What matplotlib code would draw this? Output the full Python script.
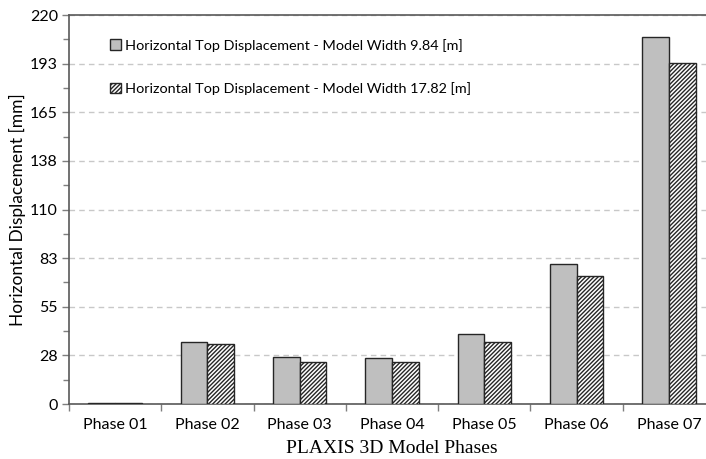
import numpy as np
import matplotlib.pyplot as plt
from matplotlib.ticker import MultipleLocator, FixedLocator

# data
phases = ["Phase 01", "Phase 02", "Phase 03", "Phase 04", "Phase 05", "Phase 06", "Phase 07"]
width_984 = [0.5, 35.0, 26.3, 25.9, 39.7, 79.2, 207.3]
width_1782 = [0.7, 34.2, 24.0, 23.6, 35.1, 72.4, 192.9]
label_984 = "Horizontal Top Displacement - Model Width 9.84 [m]"
label_1782 = "Horizontal Top Displacement - Model Width 17.82 [m]"
y_ticks = [0, 27.5, 55, 82.5, 110, 137.5, 165, 192.5, 220]
y_tick_labels = ["0", "28", "55", "83", "110", "138", "165", "193", "220"]

plt.rcParams['hatch.linewidth'] = 1.0
plt.rcParams['font.family'] = ['Lato', 'DejaVu Sans']

fig = plt.figure(figsize=(7.06, 4.59), dpi=100)
ax = fig.add_axes([69 / 706, 55 / 459, 646 / 706, 389 / 459])

x = np.arange(len(phases))
bw = 0.29
ax.bar(x - bw / 2, width_984, bw, color='#BFBFBF', edgecolor='#262626', linewidth=1.0,
       label=label_984, zorder=3)
ax.bar(x + bw / 2, width_1782, bw, color='white', edgecolor='#262626', linewidth=1.0,
       hatch='////////', label=label_1782, zorder=3)

ax.set_xlim(-0.5, len(phases) - 0.5)
ax.set_ylim(0, 220)

# y axis
ax.yaxis.set_major_locator(FixedLocator(y_ticks))
ax.set_yticklabels(y_tick_labels)
ax.yaxis.set_minor_locator(MultipleLocator(13.75))
ax.tick_params(axis='y', which='major', length=5, width=1, color='#7F7F7F', labelsize=11.5, pad=3)
ax.tick_params(axis='y', which='minor', length=4, width=1, color='#7F7F7F')
ax.grid(axis='y', which='major', linestyle=(0, (4, 3)), color='#C8C8C8', linewidth=1, zorder=0)

# x axis: ticks on boundaries, labels centered
ax.xaxis.set_major_locator(FixedLocator(np.arange(len(phases) + 1) - 0.5))
ax.xaxis.set_major_formatter(plt.NullFormatter())
ax.xaxis.set_minor_locator(FixedLocator(x))
ax.set_xticklabels(phases, minor=True)
ax.tick_params(axis='x', which='major', length=5, width=1, color='#7F7F7F')
ax.tick_params(axis='x', which='minor', length=0, labelsize=11.5, pad=10)

for s in ['left', 'bottom', 'top', 'right']:
    ax.spines[s].set_color('#595959')
    ax.spines[s].set_linewidth(1.2)

ax.set_ylabel("Horizontal Displacement [mm]", fontsize=12.5, labelpad=3)
ax.set_xlabel("PLAXIS 3D Model Phases", fontsize=14, family=['Liberation Serif'], labelpad=6)

ax.legend(loc='upper left', bbox_to_anchor=(104 / 706, 1 - 33 / 459), bbox_transform=fig.transFigure,
          frameon=False, fontsize=10.4, handlelength=0.75, handleheight=0.75, handletextpad=0.3,
          labelspacing=2.1, borderaxespad=0)

fig.savefig("out.png", dpi=100)
